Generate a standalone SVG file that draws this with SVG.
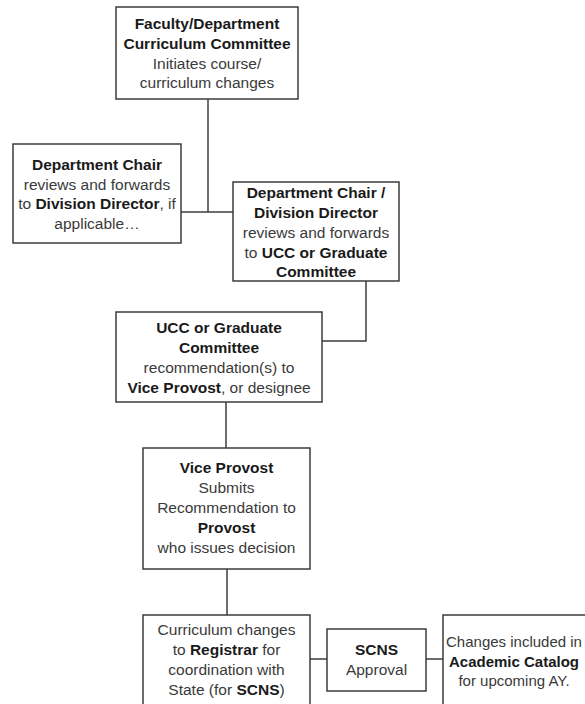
<svg xmlns="http://www.w3.org/2000/svg" width="585" height="704" viewBox="0 0 585 704">
<style>
.box{fill:#fff;stroke:#3c3c3c;stroke-width:1.5}
.conn line,.conn polyline{stroke:#3c3c3c;stroke-width:1.5;fill:none}
text{font-family:"Liberation Sans",Arial,sans-serif;font-size:15.5px;fill:#3a3a3a;text-anchor:middle}
.b{font-weight:bold;fill:#1a1a1a}
#n8 text{font-size:15px}
</style>
<rect width="585" height="704" fill="#fff"/>
<g class="conn" id="connectors">
<line x1="208" y1="99" x2="208" y2="212"/>
<line x1="181" y1="212" x2="233" y2="212"/>
<polyline points="366,281 366,341 322,341"/>
<line x1="226" y1="402" x2="226" y2="448"/>
<line x1="227" y1="569" x2="227" y2="615"/>
<line x1="310" y1="659" x2="327" y2="659"/>
<line x1="426" y1="659" x2="443" y2="659"/>
</g>
<g id="n1">
<rect class="box" x="116" y="7" width="182" height="92"/>
<text x="207" y="28.5" class="b">Faculty/Department</text>
<text x="207" y="48.5" class="b">Curriculum Committee</text>
<text x="207" y="68.5">Initiates course/</text>
<text x="207" y="88">curriculum changes</text>
</g>
<g id="n2">
<rect class="box" x="13" y="144" width="168" height="99"/>
<text x="97" y="170" class="b">Department Chair</text>
<text x="97" y="189.5">reviews and forwards</text>
<text x="97" y="209">to <tspan class="b">Division Director</tspan>, if</text>
<text x="97" y="229">applicable…</text>
</g>
<g id="n3">
<rect class="box" x="233" y="182" width="166" height="99"/>
<text x="316" y="197.5" class="b">Department Chair /</text>
<text x="316" y="217.5" class="b">Division Director</text>
<text x="316" y="237.5">reviews and forwards</text>
<text x="316" y="257.5">to <tspan class="b">UCC or Graduate</tspan></text>
<text x="316" y="277" class="b">Committee</text>
</g>
<g id="n4">
<rect class="box" x="116" y="312" width="206" height="90"/>
<text x="219" y="333" class="b">UCC or Graduate</text>
<text x="219" y="353" class="b">Committee</text>
<text x="219" y="373">recommendation(s) to</text>
<text x="219" y="393"><tspan class="b">Vice Provost</tspan>, or designee</text>
</g>
<g id="n5">
<rect class="box" x="143" y="448" width="167" height="121"/>
<text x="226.5" y="473" class="b">Vice Provost</text>
<text x="226.5" y="493">Submits</text>
<text x="226.5" y="513">Recommendation to</text>
<text x="226.5" y="533" class="b">Provost</text>
<text x="226.5" y="553">who issues decision</text>
</g>
<g id="n6">
<rect class="box" x="143" y="615" width="167" height="100"/>
<text x="226.5" y="635">Curriculum changes</text>
<text x="226.5" y="655">to <tspan class="b">Registrar</tspan> for</text>
<text x="226.5" y="675">coordination with</text>
<text x="226.5" y="695">State (for <tspan class="b">SCNS</tspan>)</text>
</g>
<g id="n7">
<rect class="box" x="327" y="629" width="99" height="62"/>
<text x="376.5" y="655" class="b">SCNS</text>
<text x="376.5" y="675">Approval</text>
</g>
<g id="n8">
<rect class="box" x="443" y="615" width="170" height="100"/>
<text x="514" y="647">Changes included in</text>
<text x="514" y="667" class="b">Academic Catalog</text>
<text x="514" y="686">for upcoming AY.</text>
</g>
</svg>
